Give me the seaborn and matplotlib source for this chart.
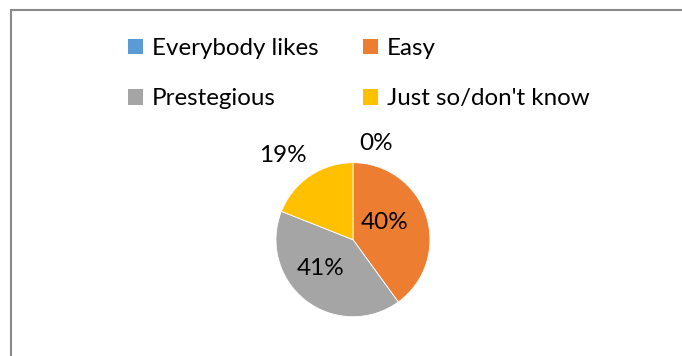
import numpy as np
import matplotlib
matplotlib.use("Agg")
import matplotlib.pyplot as plt
from matplotlib.patches import Rectangle, Patch
import seaborn as sns

# Survey answers and their shares (percent)
categories = ["Everybody likes", "Easy", "Prestegious", "Just so/don't know"]
shares = [0, 40, 41, 19]
colors = ["#5B9BD5", "#ED7D31", "#A5A5A5", "#FFC000"]

# Where each percentage label sits: radius (in pie radii) and an angular nudge
label_radius = [1.29, 0.474, 0.556, 1.425]
label_nudge = [-13.4, 10.6, -10.6, 5.4]

sns.set_theme(style="white")
plt.rcParams["font.family"] = ["Lato", "DejaVu Sans"]

W, H = 682, 356
fig = plt.figure(figsize=(W / 100, H / 100), dpi=100)
fig.patch.set_facecolor("white")

# Chart frame (runs off the right and bottom edges)
fig.add_artist(Rectangle((11 / W, -0.1), 1.2, (H - 10) / H + 0.1,
                         transform=fig.transFigure, fill=False,
                         edgecolor="#898989", linewidth=1.5))

# Pie axes: centre (353, 239.7) px, radius 77 px
cx, cy, r = 353, 239.7, 77
ax = fig.add_axes([(cx - r) / W, (H - cy - r) / H, 2 * r / W, 2 * r / H])
palette = sns.color_palette(colors)
wedges, _ = ax.pie(shares, colors=palette, startangle=90, counterclock=False,
                   wedgeprops=dict(edgecolor="white", linewidth=0.6))
ax.set_xlim(-1, 1)
ax.set_ylim(-1, 1)
ax.set_aspect("equal")
ax.axis("off")

for w, val, rad, nudge in zip(wedges, shares, label_radius, label_nudge):
    mid = np.deg2rad((w.theta1 + w.theta2) / 2 + nudge)
    ax.text(rad * np.cos(mid), rad * np.sin(mid), f"{val}%",
            ha="center", va="center", fontsize=17.5, color="black",
            clip_on=False)

# Legend laid out row by row in two columns
handles = [Patch(facecolor=c, edgecolor="none") for c in palette]
order = [0, 2, 1, 3]
fs = 17.4
fig.legend([handles[i] for i in order], [categories[i] for i in order],
           ncol=2, loc="upper left",
           bbox_to_anchor=(128 / W, 1 - 38 / H), frameon=False,
           fontsize=fs, handlelength=0.63, handleheight=0.63,
           handletextpad=0.36, columnspacing=1.85, labelspacing=1.22,
           borderpad=0, borderaxespad=0, labelcolor="black")

fig.savefig("out.png", dpi=100, facecolor="white")
